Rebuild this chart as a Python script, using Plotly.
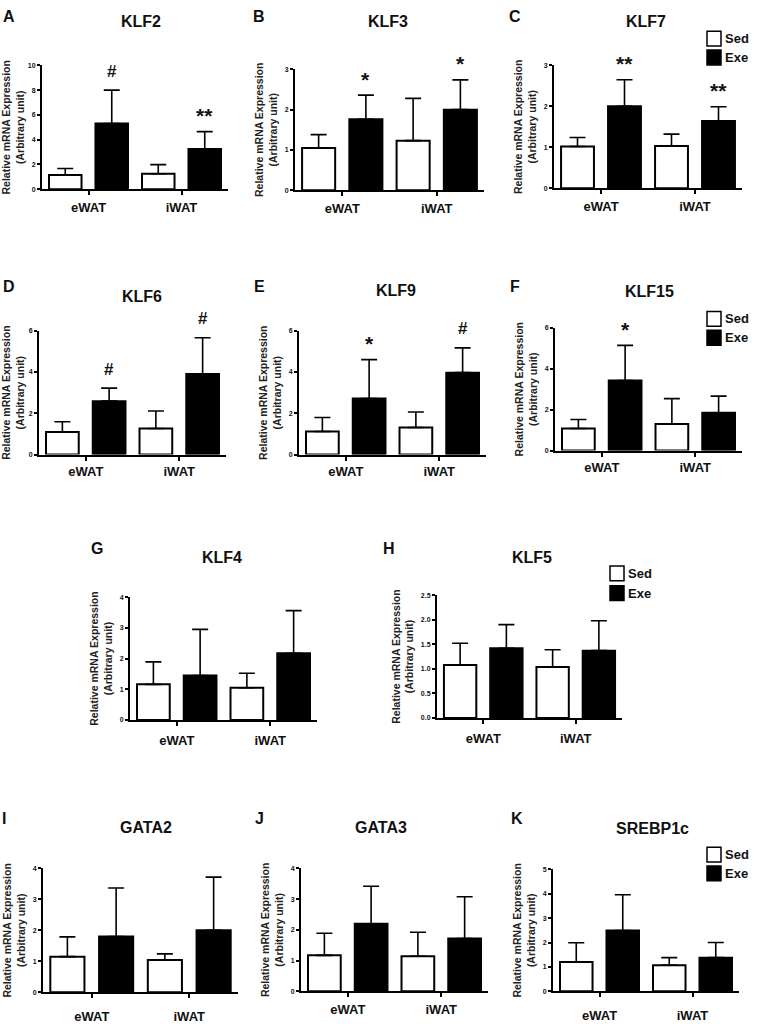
import plotly.graph_objects as go

# ---------------- data ----------------
categories = ["eWAT", "iWAT"]
series_names = ["Sed", "Exe"]
y_title = "Relative mRNA Expression<br>(Arbitrary unit)"

panel_letters = ["A", "B", "C", "D", "E", "F", "G", "H", "I", "J", "K"]
gene_names = ["KLF2", "KLF3", "KLF7", "KLF6", "KLF9", "KLF15",
              "KLF4", "KLF5", "GATA2", "GATA3", "SREBP1c"]

klf2_sed = [1.15, 1.25]
klf2_sed_err = [0.52, 0.73]
klf2_exe = [5.3, 3.25]
klf2_exe_err = [2.7, 1.4]
klf2_marks = ["#", "**"]

klf3_sed = [1.05, 1.23]
klf3_sed_err = [0.33, 1.05]
klf3_exe = [1.76, 2.0]
klf3_exe_err = [0.6, 0.74]
klf3_marks = ["*", "*"]

klf7_sed = [1.02, 1.03]
klf7_sed_err = [0.22, 0.29]
klf7_exe = [2.0, 1.64]
klf7_exe_err = [0.65, 0.35]
klf7_marks = ["**", "**"]

klf6_sed = [1.09, 1.26]
klf6_sed_err = [0.5, 0.85]
klf6_exe = [2.59, 3.9]
klf6_exe_err = [0.63, 1.76]
klf6_marks = ["#", "#"]

klf9_sed = [1.12, 1.31]
klf9_sed_err = [0.68, 0.75]
klf9_exe = [2.72, 3.97]
klf9_exe_err = [1.88, 1.2]
klf9_marks = ["*", "#"]

klf15_sed = [1.08, 1.3]
klf15_sed_err = [0.44, 1.24]
klf15_exe = [3.42, 1.85]
klf15_exe_err = [1.72, 0.81]
klf15_marks = ["*", ""]

klf4_sed = [1.16, 1.05]
klf4_sed_err = [0.73, 0.47]
klf4_exe = [1.45, 2.17]
klf4_exe_err = [1.5, 1.39]
klf4_marks = ["", ""]

klf5_sed = [1.08, 1.04]
klf5_sed_err = [0.44, 0.35]
klf5_exe = [1.42, 1.37]
klf5_exe_err = [0.48, 0.61]
klf5_marks = ["", ""]

gata2_sed = [1.15, 1.04]
gata2_sed_err = [0.64, 0.2]
gata2_exe = [1.8, 2.0]
gata2_exe_err = [1.57, 1.72]
gata2_marks = ["", ""]

gata3_sed = [1.17, 1.14]
gata3_sed_err = [0.72, 0.78]
gata3_exe = [2.2, 1.72]
gata3_exe_err = [1.22, 1.36]
gata3_marks = ["", ""]

srebp1c_sed = [1.2, 1.07]
srebp1c_sed_err = [0.79, 0.31]
srebp1c_exe = [2.49, 1.38]
srebp1c_exe_err = [1.47, 0.62]
srebp1c_marks = ["", ""]

# y axis scale (max, tick step) per panel
y_max = [10, 3, 3, 6, 6, 6, 4, 2.5, 4, 4, 5]
y_step = [2, 1, 1, 2, 2, 2, 1, 0.5, 1, 1, 1]

panel_data = [
    (klf2_sed, klf2_sed_err, klf2_exe, klf2_exe_err, klf2_marks),
    (klf3_sed, klf3_sed_err, klf3_exe, klf3_exe_err, klf3_marks),
    (klf7_sed, klf7_sed_err, klf7_exe, klf7_exe_err, klf7_marks),
    (klf6_sed, klf6_sed_err, klf6_exe, klf6_exe_err, klf6_marks),
    (klf9_sed, klf9_sed_err, klf9_exe, klf9_exe_err, klf9_marks),
    (klf15_sed, klf15_sed_err, klf15_exe, klf15_exe_err, klf15_marks),
    (klf4_sed, klf4_sed_err, klf4_exe, klf4_exe_err, klf4_marks),
    (klf5_sed, klf5_sed_err, klf5_exe, klf5_exe_err, klf5_marks),
    (gata2_sed, gata2_sed_err, gata2_exe, gata2_exe_err, gata2_marks),
    (gata3_sed, gata3_sed_err, gata3_exe, gata3_exe_err, gata3_marks),
    (srebp1c_sed, srebp1c_sed_err, srebp1c_exe, srebp1c_exe_err, srebp1c_marks),
]

# ---------------- layout (pixels) ----------------
W, H = 762, 1024
FONT = "Liberation Sans, Arial, Helvetica, sans-serif"
INK = "#111111"

# plot area: x_left, x_right, y_bottom, y_top
boxes = [
    (42, 228, 187, 62),
    (295, 484, 188, 66),
    (554, 742, 186, 62),
    (39, 226, 455, 330),
    (299, 486, 455, 330),
    (555, 742, 451, 327),
    (130, 317, 723, 599),
    (437, 622, 721, 597),
    (43, 238, 998, 873),
    (301, 488, 997, 873),
    (553, 739, 997, 874),
]
title_pos = [(141, 18), (388, 18), (646, 18), (142, 295), (396, 289), (649, 290),
             (222, 559), (532, 559), (146, 832), (381, 832), (652, 833)]
letter_pos = [(9, 13), (259, 13), (515, 13), (9, 285), (259, 285), (515, 285),
              (97, 550), (389, 550), (4, 823), (259, 823), (517, 823)]
xlabel_standoff = [1, 1, 1, 0, 0, 0, 3, 3, 7, 1, 7]
# legend (box left, Sed box center y, Exe box center y)
legend_pos = {2: (707, 35, 54), 5: (707, 318, 337), 7: (610, 575, 595), 10: (707, 859, 878)}


def fx(p):
    return p / W


def fy(p):
    return 1 - p / H


fig = go.Figure()
layout = dict(
    width=W, height=H,
    margin=dict(l=0, r=0, t=0, b=0),
    paper_bgcolor="white", plot_bgcolor="white",
    barmode="group", bargap=0.0, bargroupgap=0.3,
    showlegend=False,
    font=dict(family=FONT, color=INK),
)
annotations = []
shapes = []

for i, (sed, sed_err, exe, exe_err, marks) in enumerate(panel_data):
    n = "" if i == 0 else str(i + 1)
    xa, ya = "x" + n, "y" + n
    x0, x1, yb, yt = boxes[i]
    exe_offset_px = (x1 - x0) / 8.0  # offset of the Exe bar centre from the category centre

    for name, vals, errs, fill in ((series_names[0], sed, sed_err, "white"),
                                   (series_names[1], exe, exe_err, "black")):
        fig.add_trace(go.Bar(
            x=categories, y=vals, name=name, xaxis=xa, yaxis=ya,
            marker=dict(color=fill, line=dict(color="black", width=2)),
            error_y=dict(type="data", array=errs, arrayminus=[0] * len(errs),
                         symmetric=False, color="black", thickness=1.6, width=8),
            showlegend=False, hoverinfo="skip",
        ))

    layout["xaxis" + n] = dict(
        domain=[fx(x0), fx(x1)], anchor=ya, type="category",
        categoryorder="array", categoryarray=categories, range=[-0.5, 1.5],
        showline=True, linewidth=2, linecolor="black", mirror=False,
        ticks="outside", ticklen=4, tickwidth=1.5, tickcolor="black",
        tickfont=dict(size=13, weight="bold", color=INK, family=FONT),
        ticklabelstandoff=xlabel_standoff[i],
        showgrid=False, zeroline=False, fixedrange=True,
    )
    layout["yaxis" + n] = dict(
        domain=[fy(yb), fy(yt)], anchor=xa, range=[0, y_max[i]],
        tick0=0, dtick=y_step[i], tickformat=".1f" if y_step[i] < 1 else "d",
        showline=True, linewidth=2, linecolor="black",
        ticks="outside", ticklen=3, tickwidth=1.5, tickcolor="black",
        tickfont=dict(size=7, weight="bold", color=INK, family=FONT),
        showgrid=False, zeroline=False, fixedrange=True,
        title=dict(text=y_title, standoff=5,
                   font=dict(size=10.5, weight="bold", color="#222222", family=FONT)),
    )

    # significance markers above the Exe error bars
    for cat, v, e, m in zip(categories, exe, exe_err, marks):
        if m:
            is_hash = m == "#"
            annotations.append(dict(
                x=cat, y=v + e, xref=xa, yref=ya, text=m, showarrow=False,
                xanchor="center", yanchor="middle", yshift=19 if is_hash else 16,
                xshift=exe_offset_px,
                font=dict(size=17 if is_hash else 21, weight="bold", color=INK),
            ))

    tx, ty = title_pos[i]
    annotations.append(dict(x=fx(tx), y=fy(ty), xref="paper", yref="paper",
                            text=gene_names[i], showarrow=False,
                            xanchor="center", yanchor="middle",
                            font=dict(size=16, weight="bold", color=INK)))
    lx, ly = letter_pos[i]
    annotations.append(dict(x=fx(lx), y=fy(ly), xref="paper", yref="paper",
                            text=panel_letters[i], showarrow=False,
                            xanchor="center", yanchor="middle",
                            font=dict(size=16, weight="bold", color=INK)))

    if i in legend_pos:
        bx, c1, c2 = legend_pos[i]
        for name, cy, fill in ((series_names[0], c1, "white"), (series_names[1], c2, "black")):
            shapes.append(dict(type="rect", xref="paper", yref="paper",
                               x0=fx(bx), x1=fx(bx + 14), y0=fy(cy + 7.5), y1=fy(cy - 7.5),
                               fillcolor=fill, line=dict(color="black", width=1.5)))
            annotations.append(dict(x=fx(bx + 16), y=fy(cy), xref="paper", yref="paper",
                                    text=name, showarrow=False,
                                    xanchor="left", yanchor="middle",
                                    font=dict(size=13, weight="bold", color=INK)))

layout["annotations"] = annotations
layout["shapes"] = shapes
fig.update_layout(**layout)
fig.write_html("out.html", config={"displayModeBar": False},
               post_script="document.body.style.margin='0';")
